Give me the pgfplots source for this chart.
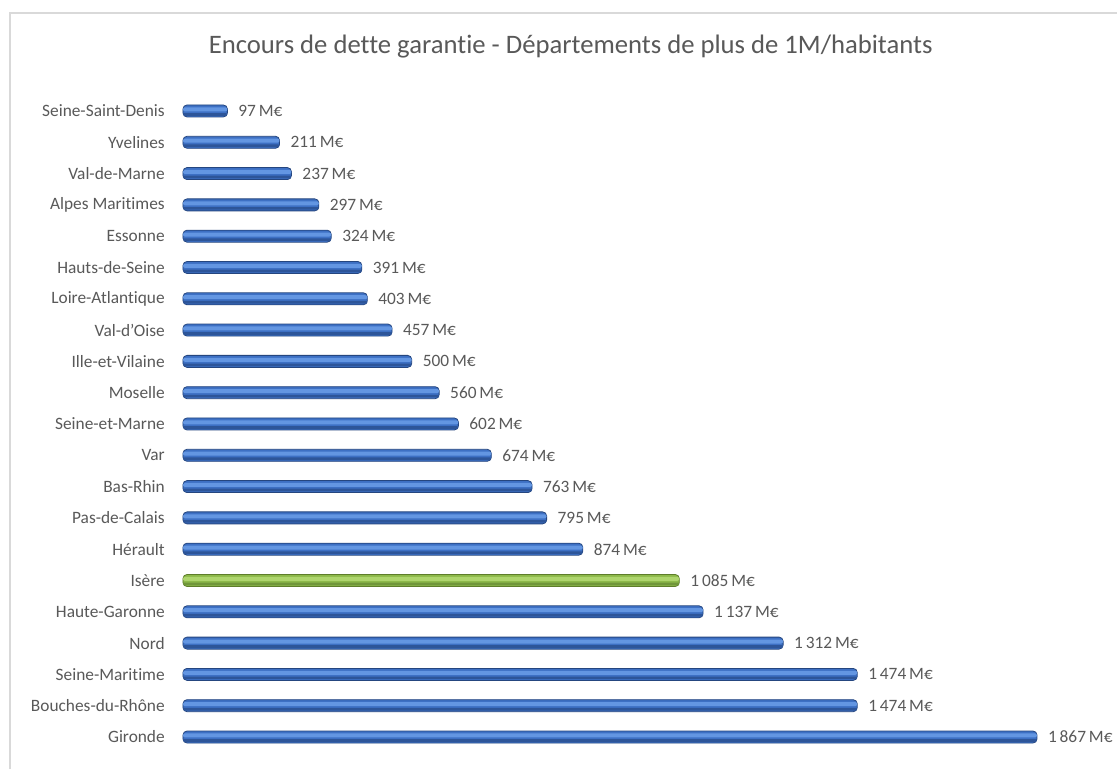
\documentclass[border=0pt]{standalone}
\usepackage{fontspec}
\setmainfont{Carlito}[Ligatures=NoCommon]
\usepackage{pgfplots}
\pgfplotsset{compat=1.18}

\definecolor{txtgrey}{HTML}{595959}
\definecolor{framegrey}{HTML}{D9D9D9}
\definecolor{blueline}{HTML}{25467F}
\definecolor{bluebase}{HTML}{3D70C4}
\definecolor{bluehi}{HTML}{6396E2}
\definecolor{bluelow}{HTML}{2D5599}
\definecolor{greenline}{HTML}{5E7D2A}
\definecolor{greenbase}{HTML}{8DB94A}
\definecolor{greenhi}{HTML}{AED56D}
\definecolor{greenlow}{HTML}{70963A}

\begin{document}
\begin{tikzpicture}
% page area, 1 px = 0.75pt
\fill[white] (0,0) rectangle (837.75pt,576.75pt);
\draw[framegrey, line width=1.5pt] (7.5pt,0) -- (7.5pt,567pt) -- (837.75pt,567pt);
\node[font=\fontsize{20}{24}\selectfont, text=txtgrey] at (428pt,542pt)
  {Encours de dette garantie - Départements de plus de 1M/habitants};

\pgfplotstableread{
val pos
1867 0
1474 1
1474 2
1312 3
1137 4
874 6
795 7
763 8
674 9
602 10
560 11
500 12
457 13
403 14
391 15
324 16
297 17
237 18
211 19
97 20
}\bluedata
\pgfplotstableread{
val pos
1085 5
}\greendata

\begin{axis}[
  at={(137.25pt,12.26pt)}, anchor=south west,
  scale only axis,
  width=686.1pt, height=493pt,
  xmin=0, xmax=2000,
  ymin=-0.5, ymax=20.5,
  clip=false,
  xbar,
  axis line style={draw=none},
  xtick=\empty,
  ytick={0,...,20},
  yticklabels={Gironde,Bouches-du-Rhône,Seine-Maritime,Nord,Haute-Garonne,Isère,Hérault,Pas-de-Calais,Bas-Rhin,Var,Seine-et-Marne,Moselle,Ille-et-Vilaine,Val-d'Oise,Loire-Atlantique,Hauts-de-Seine,Essonne,Alpes Maritimes,Val-de-Marne,Yvelines,Seine-Saint-Denis},
  major tick length=0pt,
  ytick style={draw=none},
  yticklabel style={font=\fontsize{13}{15}\selectfont, text=txtgrey, inner sep=0pt, xshift=-13.5pt},
  point meta=x,
  /pgf/number format/assume math mode=true,
  /pgf/number format/1000 sep={\,},
  every node near coord/.append style={font=\fontsize{13}{15}\selectfont, text=txtgrey, anchor=west, inner sep=0pt, xshift=8pt},
  every axis plot/.append style={rounded corners=3pt},
]
% base bars with value labels
\addplot[bar width=9pt, bar shift=0pt, draw=blueline, line width=0.6pt, fill=bluebase,
  nodes near coords={\pgfmathprintnumber{\pgfplotspointmeta}\,M€}]
  table[x=val, y=pos] {\bluedata};
\addplot[bar width=9pt, bar shift=0pt, draw=greenline, line width=0.6pt, fill=greenbase,
  nodes near coords={\pgfmathprintnumber{\pgfplotspointmeta}\,M€}]
  table[x=val, y=pos] {\greendata};
% light upper band
\addplot[bar width=3pt, bar shift=1.2pt, draw=none, fill=bluehi, rounded corners=1.5pt]
  table[x=val, y=pos] {\bluedata};
\addplot[bar width=3pt, bar shift=1.2pt, draw=none, fill=greenhi, rounded corners=1.5pt]
  table[x=val, y=pos] {\greendata};
% darker lower band
\addplot[bar width=2pt, bar shift=-2.6pt, draw=none, fill=bluelow, rounded corners=1pt]
  table[x=val, y=pos] {\bluedata};
\addplot[bar width=2pt, bar shift=-2.6pt, draw=none, fill=greenlow, rounded corners=1pt]
  table[x=val, y=pos] {\greendata};
\end{axis}
\pgfresetboundingbox
\path (0,0) rectangle (837.75pt,576.75pt);
\end{tikzpicture}
\end{document}
